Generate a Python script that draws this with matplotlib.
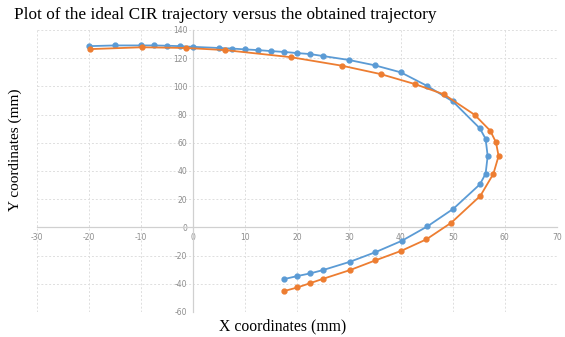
import matplotlib
matplotlib.use("Agg")
import matplotlib.pyplot as plt

plt.rcParams["axes.unicode_minus"] = False

# ideal CIR trajectory (blue)
ideal_x = [-20, -15, -10, -7.5, -5, -2.5, 0, 5, 7.5, 10, 12.5, 15, 17.5, 20, 22.5, 25,
           30, 35, 40, 45, 50, 55.2, 56.3, 56.7, 56.3, 55.2, 50.1, 45.1, 40.2, 35.1,
           30.2, 25, 22.6, 20.1, 17.5]
ideal_y = [128.5, 129, 129, 129, 128.8, 128.5, 128, 127.2, 126.8, 126.2, 125.7, 125,
           124.4, 123.6, 122.9, 121.5, 118.7, 114.9, 109.9, 100.4, 89.3, 70.2, 62.8,
           50.6, 38, 30.5, 13.2, 0.7, -9.5, -17.6, -24.4, -30.3, -32.6, -34.5, -36.7]

# obtained trajectory (orange)
obt_x = [-19.8, -9.8, -1.3, 6.2, 18.8, 28.7, 36.1, 42.7, 48.3, 54.2, 57.2, 58.3, 58.8,
         57.8, 55.3, 49.7, 44.9, 40.1, 35.1, 30.2, 25, 22.6, 20.1, 17.5]
obt_y = [126.4, 127.7, 127.2, 125.7, 120.7, 114.6, 108.7, 101.6, 94.3, 79.8, 68.5, 60.3,
         50.6, 38, 22.4, 3.3, -8.5, -16.6, -23.4, -30.3, -36.5, -39.5, -42.6, -45.2]

x_ticks = list(range(-30, 71, 10))
y_ticks = list(range(-60, 141, 20))

fig = plt.figure(figsize=(5.65, 3.37), dpi=100)
ax = fig.add_axes([0.0655, 0.0742, 0.92, 0.837])

ax.plot(ideal_x, ideal_y, color="#5B9BD5", lw=1.3, marker="o", ms=3.5, zorder=3)
ax.plot(obt_x, obt_y, color="#ED7D31", lw=1.3, marker="o", ms=3.5, zorder=3)

ax.set_xlim(-30, 70)
ax.set_ylim(-60, 140)
ax.set_xticks(x_ticks)
ax.set_yticks(y_ticks)
ax.grid(True, ls=(0, (2, 2)), color="#dedede", lw=0.7)

ax.spines["left"].set_position(("data", 0))
ax.spines["bottom"].set_position(("data", 0))
for s in ["left", "bottom"]:
    ax.spines[s].set_color("#d0d0d0")
    ax.spines[s].set_linewidth(0.9)
for s in ["right", "top"]:
    ax.spines[s].set_visible(False)
ax.tick_params(length=0, labelsize=5.5, labelcolor="#8c8c8c", pad=4)

fig.text(0.025, 0.955, "Plot of the ideal CIR trajectory versus the obtained trajectory",
         family="Liberation Serif", fontsize=12.4, va="center", ha="left")
fig.text(0.5, 0.032, "X coordinates (mm)", family="Liberation Serif", fontsize=11.3,
         ha="center", va="center")
fig.text(0.027, 0.555, "Y coordinates (mm)", family="Liberation Serif", fontsize=11,
         ha="center", va="center", rotation=90)

fig.savefig("out.png", dpi=100)
